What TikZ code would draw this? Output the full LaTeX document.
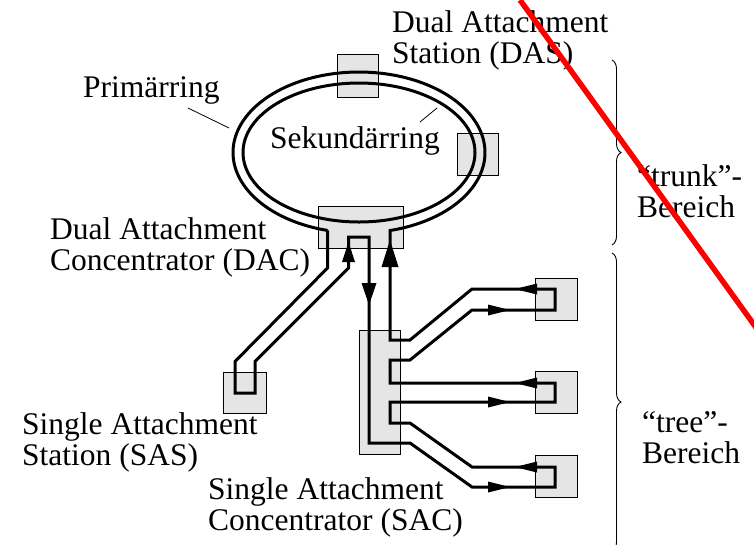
\documentclass[tikz,border=0pt]{standalone}
\usepackage{fontspec}
\setmainfont{Liberation Serif}
\usetikzlibrary{decorations.pathreplacing,calc}
\newcommand\arrhead[5]{\fill[shift={(#1,#2)}, rotate=#3] (0,0) -- (-#4,#5/2) -- (-#4,-#5/2) -- cycle;}
\begin{document}
\begin{tikzpicture}[x=1pt,y=-1pt,
  box/.style={draw=black, fill=gray!20, line width=1pt, inner sep=0pt, outer sep=0pt},
  fib/.style={line width=3pt, line join=miter},
  lbl/.style={font=\fontsize{31.5}{31}\selectfont, align=left, anchor=base west, inner sep=0pt},
  lead/.style={line width=0.8pt},
  brc/.style={decorate, decoration={brace, amplitude=9pt}, line width=0.9pt}]
\useasboundingbox (0,0) rectangle (754,544);
\clip (0,0) rectangle (754,544);
% stations
\node[box, minimum width=41pt, minimum height=43pt] (dasT) at (357.5,75.5) {};
\node[box, minimum width=41pt, minimum height=42pt] (dasR) at (477.5,154) {};
\node[box, minimum width=85pt, minimum height=42pt] (dac) at (360.5,227) {};
\node[box, minimum width=43pt, minimum height=41pt] (sas) at (244.5,392.5) {};
\node[box, minimum width=41pt, minimum height=124pt] (sac) at (379.5,392) {};
\node[box, minimum width=42pt, minimum height=42pt] (st1) at (556,299) {};
\node[box, minimum width=42pt, minimum height=42pt] (st2) at (556,392.5) {};
\node[box, minimum width=42pt, minimum height=42pt] (st3) at (556,476) {};
% secondary ring (inner)
\draw[fib] (359,152.5) ellipse [x radius=116, y radius=69.5];
% primary ring with all attached fibres
\draw[fib] (369,443) -- (369,237) -- (348.5,237) -- (348.5,268) -- (255,361.5)
  -- (255,393) -- (235,393) -- (235,361.5) -- (327.5,268) -- (327.5,230.4)
  -- plot[domain=104.48:435.76, samples=160] ({359+126*cos(\x)},{152.5+80.5*sin(\x)})
  -- (390,340) -- (410,340) -- (472,289) -- (555,289) -- (555,310) -- (472,310)
  -- (410,360) -- (390,360) -- (390,383) -- (555,383) -- (555,402) -- (390,402)
  -- (390,423) -- (410,423) -- (472,467) -- (555,467) -- (555,487) -- (472,487)
  -- (410,443) -- cycle;
% arrowheads
\arrhead{348.5}{242}{90}{20}{13}
\arrhead{390}{240}{90}{27}{17}
\arrhead{369}{305}{-90}{22}{15}
\arrhead{515}{289}{180}{22}{11}
\arrhead{510}{310}{0}{22}{11}
\arrhead{515}{383}{180}{22}{11}
\arrhead{510}{402}{0}{22}{11}
\arrhead{515}{467}{180}{22}{11}
\arrhead{510}{487}{0}{22}{11}
% labels (anchor = baseline of last line)
\node[lbl] (ldas) at (392,63) {Dual Attachment\\Station (DAS)};
\node[lbl] (lprim) at (83,97) {Primärring};
\node[lbl] (lsek) at (270,148) {Sekundärring};
\node[lbl] (ldac) at (50,270) {Dual Attachment\\Concentrator (DAC)};
\node[lbl] (lsas) at (22,465) {Single Attachment\\Station (SAS)};
\node[lbl] (lsac) at (208,530) {Single Attachment\\Concentrator (SAC)};
\node[lbl] (ltrunk) at (637,217) {“trunk”-\\Bereich};
\node[lbl] (ltree) at (642,463) {“tree”-\\Bereich};
% leader lines
\coordinate (p1) at (188,108); \coordinate (p2) at (229,128);
\coordinate (s1) at (420,122); \coordinate (s2) at (437,108);
\draw[lead] (p1) -- (p2);
\draw[lead] (s1) -- (s2);
% braces
\coordinate (b1) at (612,60); \coordinate (b2) at (612,245);
\coordinate (b3) at (612,253); \coordinate (b4) at (612,551);
\draw[brc] (b1) -- (b2);
\draw[brc] (b3) -- (b4);
% red stroke
\coordinate (r1) at (520,0); \coordinate (r2) at (760,333);
\draw[red, line width=5.5pt] (r1) -- (r2);
\end{tikzpicture}
\end{document}
